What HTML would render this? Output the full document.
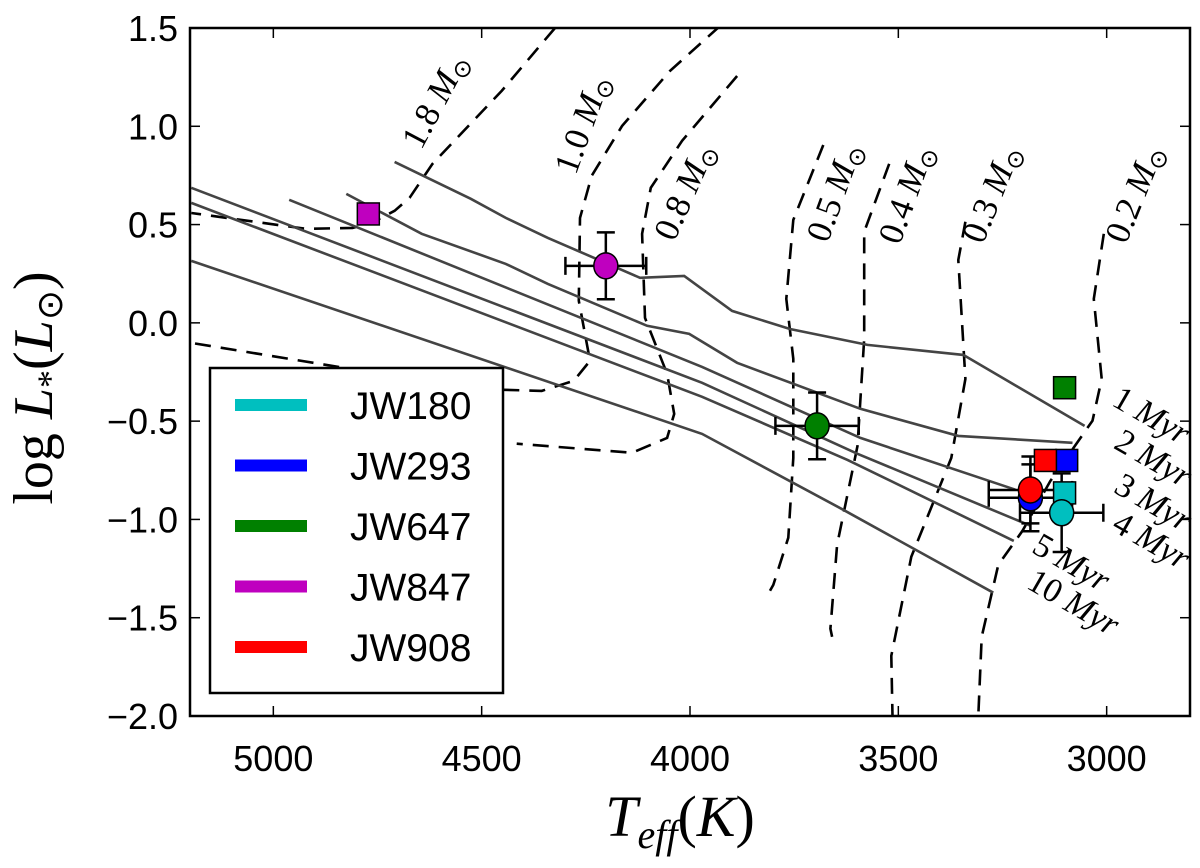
<!DOCTYPE html>
<html><head><meta charset="utf-8"><style>
html,body{margin:0;padding:0;background:#fff;}
svg text{font-family:"Liberation Sans",sans-serif;}
svg text.serif{font-family:"Liberation Serif",serif;}
</style></head><body>
<svg id="chart" width="1200" height="863" viewBox="0 0 1200 863" xmlns="http://www.w3.org/2000/svg"></svg>
<script>
const xTicks=[5000,4500,4000,3500,3000];
const yTicks=[1.5,1.0,0.5,0.0,-0.5,-1.0,-1.5,-2.0];
const yTickLabels=["1.5","1.0","0.5","0.0","\u22120.5","\u22121.0","\u22121.5","\u22122.0"];
const isoNames=["1 Myr","2 Myr","3 Myr","4 Myr","5 Myr","10 Myr"];
const iso1T=[4709,4526,4442,4341,4120,4014,3899,3760,3574,3344,3053];
const iso1L=[0.819,0.631,0.534,0.432,0.229,0.239,0.061,-0.031,-0.112,-0.163,-0.524];
const iso2T=[4825,4644,4442,4341,4103,4002,3887,3591,3356,3082];
const iso2L=[0.656,0.453,0.300,0.198,-0.015,-0.056,-0.203,-0.437,-0.575,-0.610];
const iso3T=[4962,3971,3591,3219];
const iso3L=[0.626,-0.224,-0.585,-0.849];
const iso4T=[5197,3971,3598,3183];
const iso4L=[0.687,-0.305,-0.666,-1.032];
const iso5T=[5197,3971,3622,3223];
const iso5L=[0.610,-0.376,-0.697,-1.109];
const iso10T=[5197,3971,3632,3272];
const iso10L=[0.315,-0.565,-0.951,-1.373];
const trk18T=[4324,4452,4618,4673,4709,4764,4810,4921,5197];
const trk18L=[1.5,1.18,0.809,0.636,0.570,0.509,0.483,0.478,0.559];
const trk10T=[3928,4048,4163,4236,4264,4267,4240,4279,4356,4524,4829,5197];
const trk10L=[1.51,1.282,1.002,0.748,0.534,0.112,-0.193,-0.295,-0.346,-0.336,-0.229,-0.102];
const trk08T=[3887,4019,4094,4115,4108,4055,4038,4055,4139,4416];
const trk08L=[1.256,0.926,0.687,0.453,0.025,-0.259,-0.463,-0.585,-0.661,-0.615];
const trk05T=[3680,3752,3769,3752,3752,3764,3800,3808];
const trk05L=[0.905,0.524,0.122,-0.183,-0.687,-1.093,-1.333,-1.363];
const trk04T=[3522,3582,3582,3598,3647,3663,3659];
const trk04L=[0.809,0.463,-0.081,-0.626,-1.129,-1.556,-1.597];
const trk03T=[3339,3356,3339,3373,3469,3517,3514];
const trk03L=[0.514,0.32,-0.285,-0.687,-1.190,-1.694,-2.0];
const trk02T=[3007,3031,3012,3034,3135,3202,3260,3300,3308];
const trk02L=[0.453,0.122,-0.285,-0.498,-0.804,-1.058,-1.231,-1.597,-2.0];
const starNames=["JW180","JW293","JW647","JW847","JW908"];
const starColors=["#00bfbf","#0000ff","#008000","#bf00bf","#ff0000"];
const circT=[3108,3183,3695,4202,3183];
const circL=[-0.966,-0.89,-0.524,0.29,-0.85];
const circTerr=[100,100,100,97,100];
const circLerr=[0.2,0.17,0.17,0.17,0.17];
const sqT=[3101,3096,3101,4772,3147];
const sqL=[-0.865,-0.70,-0.33,0.554,-0.70];

const NS="http://www.w3.org/2000/svg";
const svg=document.getElementById('chart');
const X0=190,X1=1190,Y0=28,Y1=716;
const xs=t=>X0+(5200-t)/(5200-2800)*(X1-X0);
const ys=l=>Y0+(1.5-l)/(3.5)*(Y1-Y0);
function mk(tag,attrs,parent){const e=document.createElementNS(NS,tag);for(const k in attrs)e.setAttribute(k,attrs[k]);(parent||svg).appendChild(e);return e;}
const defs=mk('defs',{});
const cp=mk('clipPath',{id:'clip'},defs);mk('rect',{x:X0,y:Y0,width:X1-X0,height:Y1-Y0},cp);
const plot=mk('g',{'clip-path':'url(#clip)'});


function pts(T,L){return T.map((t,i)=>xs(t).toFixed(1)+','+ys(L[i]).toFixed(1)).join(' ');}
const tracks=[[trk18T,trk18L,'1.8'],[trk10T,trk10L,'1.0'],[trk08T,trk08L,'0.8'],[trk05T,trk05L,'0.5'],[trk04T,trk04L,'0.4'],[trk03T,trk03L,'0.3'],[trk02T,trk02L,'0.2']];
tracks.forEach(tr=>{
 const p=mk('polyline',{points:pts(tr[0],tr[1]),fill:'none',stroke:'#000','stroke-width':2.6,'stroke-dasharray':'16,10'},plot);
 
 
});
const isos=[[iso1T,iso1L],[iso2T,iso2L],[iso3T,iso3L],[iso4T,iso4L],[iso5T,iso5L],[iso10T,iso10L]];
isos.forEach((iz,i)=>{
 const p=mk('polyline',{points:pts(iz[0],iz[1]),fill:'none',stroke:'#444','stroke-width':2.6},plot);
 
 
});
const mLab=[['1.8',445,106,-62],['1.0',593,128,-70],['0.8',695,196,-66],['0.5',845,196,-70],['0.4',917,198,-70],['0.3',1002,198,-68],['0.2',1145,198,-68]];
mLab.forEach(m=>{
 const t=mk('text',{x:m[1],y:m[2],'font-size':35,'text-anchor':'middle','class':'serif',transform:`rotate(${m[3]} ${m[1]} ${m[2]})`});
 
 
 t.innerHTML=m[0]+' <tspan font-style="italic">M</tspan><tspan font-size="24" dy="6">\u2299</tspan>';
});
const aLab=[[1146,425],[1148,468],[1148,512],[1146,550],[1066,572],[1068,612]];
aLab.forEach((a,i)=>{
 const parts=isoNames[i].split(' ');
 const t=mk('text',{x:a[0],y:a[1],'font-size':34,'text-anchor':'middle','class':'serif',transform:`rotate(30 ${a[0]} ${a[1]})`});
 
 
 t.innerHTML=parts[0]+' <tspan font-style="italic">Myr</tspan>';
});
circT.forEach((t,i)=>{
 const g=mk('g',{stroke:'#000','stroke-width':2.5},plot);
 
 
 const cx=xs(t),cy=ys(circL[i]),xl=xs(t+circTerr[i]),xr=xs(t-circTerr[i]),yt=ys(circL[i]+circLerr[i]),yb=ys(circL[i]-circLerr[i]);
 mk('line',{x1:xl,y1:cy,x2:xr,y2:cy},g);mk('line',{x1:cx,y1:yt,x2:cx,y2:yb},g);
 mk('line',{x1:xl,y1:cy-9,x2:xl,y2:cy+9},g);mk('line',{x1:xr,y1:cy-9,x2:xr,y2:cy+9},g);
 mk('line',{x1:cx-9,y1:yt,x2:cx+9,y2:yt},g);mk('line',{x1:cx-9,y1:yb,x2:cx+9,y2:yb},g);
});
sqT.forEach((t,i)=>{
 const r=mk('rect',{x:xs(t)-11,y:ys(sqL[i])-11,width:22,height:22,fill:starColors[i],stroke:'#000','stroke-width':1.5},plot);
 
 
});
circT.forEach((t,i)=>{
 const c=mk('ellipse',{cx:xs(t),cy:ys(circL[i]),rx:12,ry:13,fill:starColors[i],stroke:'#000','stroke-width':1.5},plot);
 
 
});
const lg=mk('g',{});


mk('rect',{x:210,y:368,width:293,height:325,fill:'#fff',stroke:'#000','stroke-width':2.5},lg);
starNames.forEach((n,i)=>{
 const y=405+i*60.5;
 const e=mk('g',{},lg);
 
 
 mk('line',{x1:235,y1:y,x2:307,y2:y,stroke:starColors[i],'stroke-width':12},e);
 const t=mk('text',{x:350,y:y+14,'font-size':39},e);t.textContent=n;
});
const ax=mk('g',{});


mk('rect',{x:X0,y:Y0,width:X1-X0,height:Y1-Y0,fill:'none',stroke:'#000','stroke-width':2.5},ax);
xTicks.forEach(v=>{
 const x=xs(v);
 mk('line',{x1:x,y1:Y1,x2:x,y2:Y1-10,stroke:'#000','stroke-width':1.5},ax);
 mk('line',{x1:x,y1:Y0,x2:x,y2:Y0+10,stroke:'#000','stroke-width':1.5},ax);
 const t=mk('text',{x:x,y:Y1+55,'font-size':36,'text-anchor':'middle'},ax);
 
 
 t.textContent=v;
});
yTicks.forEach((v,i)=>{
 const y=ys(v);
 mk('line',{x1:X0,y1:y,x2:X0+10,y2:y,stroke:'#000','stroke-width':1.5},ax);
 mk('line',{x1:X1,y1:y,x2:X1-10,y2:y,stroke:'#000','stroke-width':1.5},ax);
 const t=mk('text',{x:X0-12,y:y+13,'font-size':36,'text-anchor':'end'},ax);
 
 
 t.textContent=yTickLabels[i];
});
const xl=mk('text',{x:680,y:836,'font-size':58,'text-anchor':'middle','class':'serif'});


xl.innerHTML='<tspan font-style="italic">T</tspan><tspan font-style="italic" font-size="40" dy="12">eff</tspan><tspan dy="-12">(</tspan><tspan font-style="italic">K</tspan>)';
const yl=mk('text',{x:52,y:388,'font-size':56,'text-anchor':'middle','class':'serif',transform:'rotate(-90 52 388)'});


yl.innerHTML='log <tspan font-style="italic">L</tspan><tspan font-size="36" dy="10">*</tspan><tspan dy="-10">(</tspan><tspan font-style="italic">L</tspan><tspan font-size="36" dy="10">\u2299</tspan><tspan dy="-10">)</tspan>';
</script>
</body></html>
